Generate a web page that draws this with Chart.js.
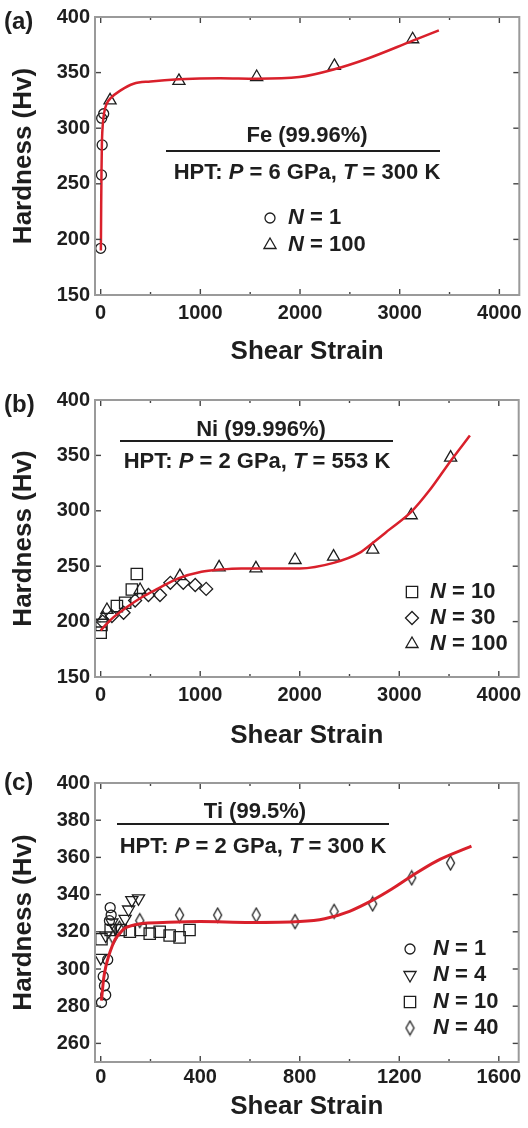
<!DOCTYPE html>
<html>
<head>
<meta charset="utf-8">
<script src="https://cdn.jsdelivr.net/npm/chart.js@4.4.0/dist/chart.umd.min.js"></script>
<style>
html, body { margin: 0; padding: 0; background: #fff; }
.panel { position: absolute; left: 0; width: 528px; height: 376px; }
</style>
</head>
<body>
<div class="panel" style="top:0px"><canvas id="chartA" width="528" height="376"></canvas></div>
<div class="panel" style="top:376px"><canvas id="chartB" width="528" height="376"></canvas></div>
<div class="panel" style="top:752px"><canvas id="chartC" width="528" height="376"></canvas></div>
<script>
// ---- (a) Fe ----
const feN1Strain = [0, 8, 15, 10, 30];
const feN1Hv = [192, 258, 285, 309, 313];
const feN100Strain = [94, 785, 1565, 2345, 3130];
const feN100Hv = [325, 342.5, 346, 356, 380];
const feFitStrain = [2, 5, 8, 12, 20, 35, 60, 100, 200, 330, 500, 783, 1200, 1563, 1993, 2345, 2660, 3126, 3393];
const feFitHv = [190, 230, 260, 285, 302, 314, 322, 327, 334, 340, 342, 344, 345, 344.5, 346, 353, 362, 378.5, 388];

// ---- (b) Ni ----
const niN10Strain = [0, 8, 163, 246, 313, 363];
const niN10Hv = [190, 197, 214, 217, 229, 243];
const niN30Strain = [20, 113, 230, 346, 480, 596, 700, 830, 950, 1060];
const niN30Hv = [200, 205, 208, 219, 224, 224, 235, 235, 233, 229.5];
const niN100Strain = [25, 63, 396, 796, 1190, 1560, 1953, 2340, 2733, 3120, 3516];
const niN100Hv = [203, 210.5, 228.5, 241, 249, 248, 255.6, 258.6, 265, 296, 348];
const niFitStrain = [0, 50, 130, 246, 413, 580, 780, 1013, 1200, 1413, 1600, 2000, 2340, 2600, 2733, 2900, 3120, 3300, 3516, 3710];
const niFitHv = [192, 197, 204, 212, 222, 230, 239, 245, 247, 248, 248, 248, 253, 262, 271, 283, 299, 318, 345, 368];

// ---- (c) Ti ----
const tiN1Strain = [3, 20, 15, 10, 28, 35, 38, 42];
const tiN1Hv = [282, 286, 291, 296, 305, 326, 333, 329];
const tiN4Strain = [0, 20, 45, 60, 98, 112, 125, 152];
const tiN4Hv = [306, 318, 325, 322, 327, 332, 337, 338];
const tiN10Strain = [3, 40, 80, 117, 160, 197, 237, 277, 317, 357];
const tiN10Hv = [316, 321, 321, 320, 321, 319, 320, 318, 317, 321];
const tiN40Strain = [50, 75, 157, 317, 470, 625, 781, 938, 1093, 1250, 1406];
const tiN40Hv = [317, 322, 326, 329, 329, 329, 325.5, 331, 335, 349, 357];
const tiFitStrain = [3, 8, 12, 20, 32, 45, 58, 75, 98, 130, 165, 250, 400, 600, 800, 900, 1000, 1093, 1170, 1250, 1350, 1490];
const tiFitHv = [283, 290, 295, 301, 307, 312, 316, 319, 322, 323.5, 324.5, 325, 325.5, 325, 325.5, 327, 331, 337, 343, 350, 358, 366];

// ticks
const strainTicks = [0, 1000, 2000, 3000, 4000];
const strainMinor = [500, 1500, 2500, 3500];
const hvTicks = [150, 200, 250, 300, 350, 400];
const tiStrainTicks = [0, 400, 800, 1200, 1600];
const tiStrainMinor = [200, 600, 1000, 1400];
const tiHvTicks = [260, 280, 300, 320, 340, 360, 380, 400];

const FONT = "'Liberation Sans', Arial, sans-serif";
const RED = '#d9202b';
const INK = '#1e1e1e';

const zip = (xs, ys) => xs.map((x, i) => ({ x: x, y: ys[i] }));

// tall narrow diamond for Ti N = 40
function narrowDiamond(w, h) {
  const c = document.createElement('canvas');
  c.width = w + 3; c.height = h + 3;
  const g = c.getContext('2d');
  g.strokeStyle = INK; g.lineWidth = 1.3;
  g.beginPath();
  g.moveTo(c.width / 2, 1.5);
  g.lineTo(c.width - 1.5, c.height / 2);
  g.lineTo(c.width / 2, c.height - 1.5);
  g.lineTo(1.5, c.height / 2);
  g.closePath(); g.stroke();
  return c;
}

function markers(label, xs, ys, style, radius, rotation) {
  return {
    label: label, data: zip(xs, ys),
    pointStyle: style, pointRadius: radius, pointRotation: rotation || 0,
    pointBorderColor: INK, pointBackgroundColor: 'rgba(0,0,0,0)', pointBorderWidth: 1.3,
    showLine: false
  };
}
function fitLine(xs, ys, w) {
  return {
    label: 'fit', data: zip(xs, ys), showLine: true, pointRadius: 0,
    borderColor: RED, borderWidth: w, cubicInterpolationMode: 'monotone', fill: false
  };
}

function drawRuns(ctx, runs, cx, cy, size, align) {
  let w = 0;
  runs.forEach(r => {
    ctx.font = (r[1] ? 'italic ' : '') + 'bold ' + size + 'px ' + FONT;
    w += ctx.measureText(r[0]).width;
  });
  let x = align === 'left' ? cx : cx - w / 2;
  ctx.textBaseline = 'middle'; ctx.textAlign = 'left';
  runs.forEach(r => {
    ctx.font = (r[1] ? 'italic ' : '') + 'bold ' + size + 'px ' + FONT;
    ctx.fillText(r[0], x, cy);
    x += ctx.measureText(r[0]).width;
  });
}

const panelPlugin = {
  id: 'panel',
  afterDraw(chart, args, o) {
    const { ctx, chartArea: a, scales: { x, y } } = chart;
    ctx.save();
    // inward ticks on all four sides
    ctx.strokeStyle = '#444'; ctx.lineWidth = 1.4;
    const seg = (x1, y1, x2, y2) => { ctx.beginPath(); ctx.moveTo(x1, y1); ctx.lineTo(x2, y2); ctx.stroke(); };
    o.xMajor.forEach(v => { const p = x.getPixelForValue(v); seg(p, a.bottom, p, a.bottom - 6); seg(p, a.top, p, a.top + 6); });
    o.xMinor.forEach(v => { const p = x.getPixelForValue(v); seg(p, a.bottom, p, a.bottom - 3); seg(p, a.top, p, a.top + 3); });
    o.yMajor.forEach(v => { const p = y.getPixelForValue(v); seg(a.left, p, a.left + 6, p); seg(a.right, p, a.right - 6, p); });
    // frame
    ctx.strokeStyle = '#9a9a9a'; ctx.lineWidth = 2;
    ctx.strokeRect(a.left, a.top, a.width, a.height);

    ctx.fillStyle = INK;
    // panel label
    ctx.font = 'bold 24px ' + FONT; ctx.textAlign = 'left'; ctx.textBaseline = 'middle';
    ctx.fillText(o.label, 4, o.labelY);
    // material title, rule, conditions
    drawRuns(ctx, [[o.title, 0]], o.titlePos[0], o.titlePos[1], 22);
    ctx.strokeStyle = INK; ctx.lineWidth = 2;
    seg(o.rule[0], o.rule[2], o.rule[1], o.rule[2]);
    drawRuns(ctx, o.cond, o.condPos[0], o.condPos[1], 22);
    // legend from the marker datasets
    const sets = chart.data.datasets.filter(d => d.label !== 'fit');
    sets.forEach((d, i) => {
      const ly = o.legend.ys[i];
      const style = { pointStyle: d.pointStyle, radius: d.pointRadius, rotation: d.pointRotation, borderWidth: 1.3 };
      ctx.strokeStyle = INK; ctx.fillStyle = 'rgba(0,0,0,0)'; ctx.lineWidth = 1.3;
      Chart.helpers.drawPoint(ctx, style, o.legend.x, ly);
      ctx.fillStyle = INK;
      drawRuns(ctx, [['N', 1], [' = ' + d.label, 0]], o.legend.tx, ly, 22, 'left');
    });
    ctx.restore();
  }
};

function makeChart(id, cfg) {
  const H = 376;
  new Chart(document.getElementById(id), {
    type: 'scatter',
    data: { datasets: cfg.datasets },
    plugins: [panelPlugin],
    options: {
      responsive: false, animation: false, devicePixelRatio: 1,
      layout: { padding: { top: cfg.top, right: 7, bottom: 0, left: 0 } },
      plugins: { legend: { display: false }, tooltip: { enabled: false }, panel: cfg.panel },
      scales: {
        x: {
          type: 'linear', min: cfg.xMin, max: cfg.xMax,
          afterBuildTicks: s => { s.ticks = cfg.xTicks.map(v => ({ value: v })); },
          afterFit: s => { s.height = H - cfg.bottom; },
          grid: { display: false, drawTicks: false }, border: { display: false },
          ticks: { font: { family: FONT, size: 20, weight: 'bold' }, color: INK, padding: cfg.xPad, maxRotation: 0, callback: v => String(v) },
          title: { display: true, text: 'Shear Strain', color: INK, font: { family: FONT, size: 26, weight: 'bold' }, padding: { top: 0, bottom: cfg.titlePad } }
        },
        y: {
          type: 'linear', min: cfg.yMin, max: cfg.yMax,
          afterBuildTicks: s => { s.ticks = cfg.yTicks.map(v => ({ value: v })); },
          afterFit: s => { s.width = 95; },
          grid: { display: false, drawTicks: false }, border: { display: false },
          ticks: { font: { family: FONT, size: 20, weight: 'bold' }, color: INK, padding: 5, callback: v => String(v) },
          title: { display: true, text: 'Hardness (Hv)', color: INK, font: { family: FONT, size: 26, weight: 'bold' }, padding: { top: 8, bottom: 0 } }
        }
      }
    }
  });
}

makeChart('chartA', {
  top: 16, bottom: 295, xMin: -57, xMax: 4200, yMin: 150, yMax: 400, xPad: 6, titlePad: 9,
  xTicks: strainTicks, yTicks: hvTicks,
  datasets: [
    fitLine(feFitStrain, feFitHv, 2.5),
    markers('1', feN1Strain, feN1Hv, 'circle', 5),
    markers('100', feN100Strain, feN100Hv, 'triangle', 7)
  ],
  panel: {
    xMajor: strainTicks, xMinor: strainMinor, yMajor: hvTicks,
    label: '(a)', labelY: 22,
    title: 'Fe (99.96%)', titlePos: [307, 136], rule: [166, 440, 151],
    cond: [['HPT: ', 0], ['P', 1], [' = 6 GPa, ', 0], ['T', 1], [' = 300 K', 0]], condPos: [307, 173],
    legend: { x: 270, tx: 288, ys: [218, 245] }
  }
});

makeChart('chartB', {
  top: 24, bottom: 301, xMin: -57, xMax: 4200, yMin: 150, yMax: 400, xPad: 6, titlePad: 1,
  xTicks: strainTicks, yTicks: hvTicks,
  datasets: [
    fitLine(niFitStrain, niFitHv, 2.5),
    markers('10', niN10Strain, niN10Hv, 'rect', 8),
    markers('30', niN30Strain, niN30Hv, 'rectRot', 6.5),
    markers('100', niN100Strain, niN100Hv, 'triangle', 7)
  ],
  panel: {
    xMajor: strainTicks, xMinor: strainMinor, yMajor: hvTicks,
    label: '(b)', labelY: 29,
    title: 'Ni (99.996%)', titlePos: [261, 54], rule: [120, 393, 65],
    cond: [['HPT: ', 0], ['P', 1], [' = 2 GPa, ', 0], ['T', 1], [' = 553 K', 0]], condPos: [257, 86],
    legend: { x: 412, tx: 430, ys: [216, 242, 268] }
  }
});

makeChart('chartC', {
  top: 31, bottom: 310, xMin: -23, xMax: 1680, yMin: 250, yMax: 400, xPad: 3, titlePad: 6,
  xTicks: tiStrainTicks, yTicks: tiHvTicks,
  datasets: [
    fitLine(tiFitStrain, tiFitHv, 3),
    markers('1', tiN1Strain, tiN1Hv, 'circle', 5),
    markers('4', tiN4Strain, tiN4Hv, 'triangle', 7, 180),
    markers('10', tiN10Strain, tiN10Hv, 'rect', 8),
    markers('40', tiN40Strain, tiN40Hv, narrowDiamond(8, 14), 7)
  ],
  panel: {
    xMajor: tiStrainTicks, xMinor: tiStrainMinor, yMajor: tiHvTicks,
    label: '(c)', labelY: 31,
    title: 'Ti (99.5%)', titlePos: [255, 60], rule: [117, 389, 72],
    cond: [['HPT: ', 0], ['P', 1], [' = 2 GPa, ', 0], ['T', 1], [' = 300 K', 0]], condPos: [253, 95],
    legend: { x: 410, tx: 433, ys: [197, 223, 250, 276] }
  }
});
</script>
</body>
</html>
